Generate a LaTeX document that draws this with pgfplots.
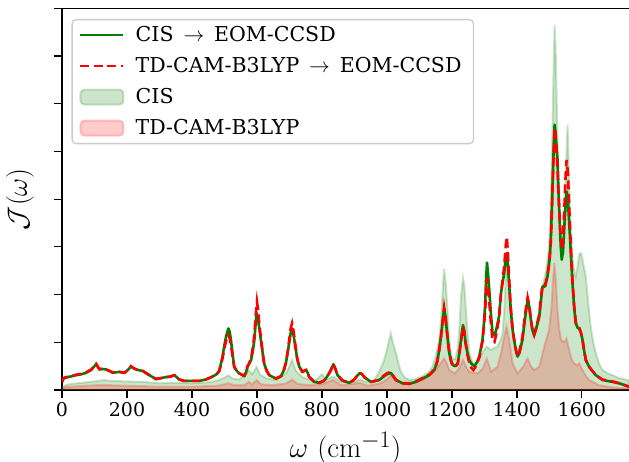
\documentclass[border=0pt]{standalone}
\usepackage{graphicx}
\usepackage[no-math]{fontspec}
\setmainfont{DejaVu Serif}
\usepackage{pgfplots}
\usepackage{pgfplotstable}
\pgfplotsset{compat=1.18}
\definecolor{mplgreen}{RGB}{0,128,0}
\definecolor{mplred}{RGB}{255,0,0}
\definecolor{legedge}{RGB}{204,204,204}

\pgfplotstableread[row sep=\\]{x y\\
0 0.17\\ 5 0.24\\ 12 0.26\\ 25 0.28\\ 43 0.31\\ 60 0.33\\ 74 0.36\\ 90 0.42\\ 105 0.54\\ 115 0.43\\ 125 0.44\\ 135 0.43\\ 146 0.40\\ 156 0.36\\ 176 0.38\\ 192 0.36\\ 203 0.42\\ 212 0.49\\ 222 0.45\\ 233 0.42\\ 248 0.40\\ 260 0.35\\ 269 0.31\\ 289 0.23\\ 305 0.25\\ 320 0.27\\ 333 0.28\\ 346 0.31\\ 361 0.22\\ 376 0.19\\ 402 0.19\\ 422 0.19\\ 443 0.22\\ 463 0.28\\ 476 0.33\\ 484 0.40\\ 494 0.70\\ 500 0.95\\ 505 1.12\\ 512 1.29\\ 516 1.22\\ 520 1.05\\ 525 0.75\\ 530 0.49\\ 538 0.40\\ 545 0.35\\ 561 0.29\\ 566 0.36\\ 571 0.49\\ 576 0.55\\ 582 0.63\\ 588 0.85\\ 592 1.05\\ 596 1.40\\ 599 1.61\\ 602 1.55\\ 607 1.30\\ 612 1.05\\ 617 0.80\\ 622 0.56\\ 630 0.40\\ 638 0.31\\ 658 0.24\\ 674 0.29\\ 682 0.40\\ 689 0.56\\ 695 0.80\\ 699 0.98\\ 704 1.20\\ 708 1.29\\ 712 1.18\\ 718 0.91\\ 724 0.65\\ 730 0.49\\ 740 0.38\\ 751 0.42\\ 756 0.36\\ 761 0.27\\ 776 0.17\\ 792 0.15\\ 805 0.19\\ 812 0.24\\ 822 0.35\\ 828 0.42\\ 835 0.54\\ 841 0.45\\ 848 0.31\\ 863 0.20\\ 884 0.15\\ 898 0.21\\ 905 0.27\\ 917 0.36\\ 925 0.32\\ 930 0.27\\ 951 0.17\\ 976 0.21\\ 990 0.28\\ 1000 0.33\\ 1012 0.36\\ 1018 0.30\\ 1028 0.21\\ 1048 0.14\\ 1069 0.13\\ 1089 0.17\\ 1110 0.24\\ 1130 0.31\\ 1146 0.42\\ 1155 0.60\\ 1161 0.84\\ 1166 1.10\\ 1171 1.40\\ 1176 1.71\\ 1180 1.55\\ 1183 1.33\\ 1188 1.00\\ 1192 0.77\\ 1197 0.62\\ 1203 0.52\\ 1210 0.50\\ 1218 0.56\\ 1223 0.78\\ 1228 1.05\\ 1234 1.36\\ 1238 1.25\\ 1241 1.05\\ 1247 0.80\\ 1253 0.63\\ 1260 0.55\\ 1269 0.50\\ 1277 0.58\\ 1284 0.70\\ 1290 0.90\\ 1294 1.05\\ 1298 1.35\\ 1302 1.75\\ 1305 2.30\\ 1308 2.67\\ 1311 2.45\\ 1315 2.10\\ 1320 1.60\\ 1325 1.19\\ 1331 1.15\\ 1336 1.25\\ 1345 1.54\\ 1351 2.03\\ 1356 2.25\\ 1361 2.45\\ 1366 2.80\\ 1369 2.87\\ 1372 2.65\\ 1376 2.24\\ 1381 1.70\\ 1387 1.26\\ 1395 0.90\\ 1402 0.70\\ 1408 0.78\\ 1417 1.05\\ 1425 1.50\\ 1433 1.89\\ 1438 1.75\\ 1443 1.47\\ 1448 1.25\\ 1453 1.15\\ 1460 1.30\\ 1469 1.54\\ 1475 1.95\\ 1479 2.17\\ 1487 2.17\\ 1494 2.38\\ 1500 2.70\\ 1504 3.07\\ 1508 3.90\\ 1512 4.82\\ 1516 5.56\\ 1519 5.40\\ 1522 5.10\\ 1525 4.82\\ 1528 4.15\\ 1532 3.49\\ 1535 3.00\\ 1538 2.73\\ 1542 2.90\\ 1546 3.42\\ 1550 3.90\\ 1553 4.16\\ 1557 3.95\\ 1561 3.49\\ 1566 2.85\\ 1571 2.24\\ 1576 1.75\\ 1581 1.40\\ 1587 1.30\\ 1592 1.29\\ 1597 1.20\\ 1602 1.05\\ 1607 0.82\\ 1612 0.63\\ 1622 0.49\\ 1632 0.40\\ 1643 0.31\\ 1663 0.21\\ 1694 0.17\\ 1715 0.14\\ 1745 0.07\\
}\cisline

\pgfplotstableread[row sep=\\]{x y\\
0 0.17\\ 5 0.25\\ 12 0.27\\ 25 0.28\\ 43 0.32\\ 60 0.34\\ 74 0.37\\ 90 0.43\\ 105 0.55\\ 115 0.44\\ 125 0.45\\ 135 0.43\\ 146 0.40\\ 156 0.37\\ 176 0.38\\ 192 0.36\\ 203 0.42\\ 212 0.50\\ 222 0.45\\ 233 0.42\\ 248 0.40\\ 260 0.35\\ 269 0.31\\ 289 0.23\\ 305 0.25\\ 320 0.27\\ 333 0.28\\ 346 0.31\\ 361 0.22\\ 376 0.19\\ 402 0.19\\ 422 0.19\\ 443 0.22\\ 463 0.28\\ 476 0.33\\ 484 0.40\\ 494 0.66\\ 500 0.88\\ 505 1.03\\ 512 1.15\\ 516 1.08\\ 520 0.95\\ 525 0.70\\ 530 0.48\\ 538 0.40\\ 545 0.35\\ 561 0.30\\ 566 0.38\\ 571 0.50\\ 576 0.56\\ 582 0.66\\ 588 0.92\\ 592 1.15\\ 596 1.55\\ 600 1.85\\ 603 1.70\\ 607 1.40\\ 612 1.10\\ 617 0.82\\ 622 0.56\\ 630 0.40\\ 638 0.31\\ 658 0.24\\ 674 0.29\\ 682 0.40\\ 689 0.57\\ 695 0.83\\ 699 1.03\\ 704 1.30\\ 708 1.40\\ 712 1.26\\ 718 0.95\\ 724 0.66\\ 730 0.49\\ 740 0.38\\ 751 0.42\\ 756 0.36\\ 761 0.27\\ 776 0.17\\ 792 0.15\\ 805 0.19\\ 812 0.24\\ 822 0.35\\ 828 0.43\\ 835 0.55\\ 841 0.45\\ 848 0.31\\ 863 0.20\\ 884 0.15\\ 898 0.21\\ 905 0.27\\ 917 0.36\\ 925 0.32\\ 930 0.27\\ 951 0.17\\ 976 0.21\\ 990 0.30\\ 1000 0.35\\ 1012 0.38\\ 1018 0.31\\ 1028 0.21\\ 1048 0.14\\ 1069 0.13\\ 1089 0.18\\ 1110 0.25\\ 1130 0.32\\ 1146 0.43\\ 1155 0.60\\ 1161 0.84\\ 1166 1.10\\ 1171 1.42\\ 1176 1.73\\ 1180 1.55\\ 1183 1.33\\ 1188 1.00\\ 1192 0.77\\ 1197 0.60\\ 1203 0.50\\ 1210 0.48\\ 1218 0.55\\ 1223 0.76\\ 1228 1.02\\ 1234 1.32\\ 1238 1.22\\ 1241 1.02\\ 1247 0.76\\ 1253 0.58\\ 1260 0.46\\ 1266 0.42\\ 1272 0.48\\ 1280 0.60\\ 1286 0.72\\ 1290 0.88\\ 1294 1.02\\ 1298 1.30\\ 1302 1.62\\ 1305 2.05\\ 1308 2.34\\ 1311 2.18\\ 1315 1.85\\ 1320 1.40\\ 1325 1.05\\ 1331 1.01\\ 1336 1.15\\ 1345 1.50\\ 1351 2.03\\ 1356 2.30\\ 1361 2.60\\ 1366 3.05\\ 1369 3.21\\ 1372 2.90\\ 1376 2.35\\ 1381 1.72\\ 1387 1.26\\ 1395 0.88\\ 1402 0.70\\ 1408 0.80\\ 1417 1.10\\ 1425 1.58\\ 1433 1.94\\ 1438 1.78\\ 1443 1.48\\ 1448 1.25\\ 1453 1.15\\ 1460 1.32\\ 1469 1.58\\ 1475 2.00\\ 1479 2.22\\ 1487 2.20\\ 1494 2.40\\ 1500 2.68\\ 1504 3.05\\ 1508 3.85\\ 1512 4.75\\ 1516 5.49\\ 1519 5.30\\ 1522 5.00\\ 1525 4.70\\ 1528 4.10\\ 1532 3.55\\ 1535 3.15\\ 1538 2.94\\ 1542 3.20\\ 1546 3.80\\ 1550 4.50\\ 1553 4.82\\ 1557 4.55\\ 1561 3.85\\ 1566 3.00\\ 1571 2.30\\ 1576 1.78\\ 1581 1.42\\ 1587 1.32\\ 1592 1.30\\ 1597 1.20\\ 1602 1.05\\ 1607 0.82\\ 1612 0.63\\ 1622 0.49\\ 1632 0.40\\ 1643 0.31\\ 1663 0.22\\ 1694 0.18\\ 1715 0.14\\ 1745 0.07\\
}\tdline

\pgfplotstableread[row sep=\\]{x y\\
0 0.04\\ 10 0.10\\ 30 0.13\\ 60 0.15\\ 100 0.18\\ 130 0.21\\ 150 0.19\\ 200 0.18\\ 250 0.17\\ 300 0.14\\ 350 0.15\\ 400 0.14\\ 450 0.16\\ 480 0.20\\ 500 0.26\\ 512 0.31\\ 525 0.24\\ 545 0.22\\ 565 0.32\\ 575 0.42\\ 585 0.33\\ 599 0.48\\ 610 0.32\\ 630 0.24\\ 660 0.21\\ 690 0.35\\ 708 0.63\\ 720 0.40\\ 740 0.27\\ 760 0.22\\ 780 0.20\\ 800 0.33\\ 815 0.22\\ 835 0.28\\ 860 0.17\\ 900 0.17\\ 917 0.22\\ 935 0.17\\ 960 0.20\\ 976 0.38\\ 990 0.60\\ 997 0.77\\ 1005 1.00\\ 1012 1.19\\ 1018 1.00\\ 1028 0.77\\ 1036 0.55\\ 1043 0.38\\ 1055 0.26\\ 1069 0.21\\ 1090 0.23\\ 1110 0.29\\ 1130 0.38\\ 1140 0.49\\ 1150 0.70\\ 1161 1.05\\ 1167 1.50\\ 1171 2.03\\ 1176 2.54\\ 1180 2.30\\ 1183 2.03\\ 1188 1.50\\ 1192 1.02\\ 1198 0.75\\ 1203 0.64\\ 1210 0.65\\ 1218 0.88\\ 1223 1.30\\ 1228 1.96\\ 1234 2.35\\ 1238 2.20\\ 1241 1.89\\ 1247 1.30\\ 1253 0.80\\ 1262 0.60\\ 1270 0.52\\ 1280 0.60\\ 1294 0.77\\ 1300 0.85\\ 1307 0.91\\ 1313 0.88\\ 1320 0.84\\ 1330 0.88\\ 1340 0.91\\ 1350 1.05\\ 1356 1.19\\ 1361 1.70\\ 1366 2.40\\ 1369 2.65\\ 1373 2.40\\ 1378 1.80\\ 1385 1.30\\ 1393 1.00\\ 1402 0.84\\ 1412 1.00\\ 1420 1.30\\ 1428 1.70\\ 1433 1.85\\ 1440 1.60\\ 1447 1.35\\ 1453 1.26\\ 1460 1.40\\ 1469 1.68\\ 1480 2.20\\ 1488 2.45\\ 1494 2.72\\ 1500 3.10\\ 1504 3.77\\ 1508 5.00\\ 1512 6.40\\ 1516 7.65\\ 1519 7.20\\ 1522 6.22\\ 1526 4.80\\ 1530 3.80\\ 1535 3.20\\ 1540 2.94\\ 1545 3.40\\ 1550 4.50\\ 1556 5.56\\ 1560 4.60\\ 1565 3.40\\ 1571 2.80\\ 1576 2.50\\ 1581 2.38\\ 1587 2.60\\ 1592 2.85\\ 1597 2.87\\ 1602 2.73\\ 1607 2.55\\ 1612 2.38\\ 1620 1.80\\ 1627 1.33\\ 1635 1.00\\ 1643 0.77\\ 1653 0.55\\ 1663 0.42\\ 1680 0.35\\ 1694 0.31\\ 1715 0.25\\ 1745 0.20\\
}\cisarea

\pgfplotstableread[row sep=\\]{x y\\
0 0.03\\ 10 0.06\\ 50 0.08\\ 100 0.10\\ 150 0.10\\ 200 0.09\\ 300 0.07\\ 400 0.07\\ 480 0.09\\ 512 0.14\\ 530 0.10\\ 560 0.10\\ 575 0.17\\ 585 0.12\\ 599 0.21\\ 612 0.12\\ 650 0.10\\ 690 0.14\\ 708 0.22\\ 725 0.13\\ 760 0.10\\ 800 0.12\\ 835 0.21\\ 860 0.10\\ 917 0.15\\ 940 0.09\\ 980 0.14\\ 1000 0.22\\ 1012 0.31\\ 1025 0.20\\ 1048 0.16\\ 1080 0.16\\ 1110 0.21\\ 1140 0.35\\ 1161 0.52\\ 1176 0.66\\ 1185 0.55\\ 1192 0.42\\ 1208 0.35\\ 1222 0.45\\ 1234 0.63\\ 1243 0.50\\ 1253 0.38\\ 1279 0.35\\ 1295 0.45\\ 1307 0.66\\ 1313 0.55\\ 1320 0.38\\ 1340 0.49\\ 1352 0.80\\ 1361 1.12\\ 1368 1.33\\ 1375 1.10\\ 1387 0.56\\ 1402 0.35\\ 1420 0.50\\ 1433 0.66\\ 1443 0.50\\ 1453 0.42\\ 1469 0.49\\ 1484 0.91\\ 1499 1.26\\ 1506 1.70\\ 1511 2.30\\ 1515 2.66\\ 1519 2.40\\ 1525 1.68\\ 1530 1.30\\ 1536 1.05\\ 1545 1.00\\ 1553 1.08\\ 1561 0.84\\ 1568 0.65\\ 1576 0.56\\ 1585 0.52\\ 1592 0.56\\ 1602 0.42\\ 1612 0.30\\ 1622 0.21\\ 1653 0.10\\ 1700 0.05\\ 1745 0.03\\
}\tdarea

\pgfplotsset{
  myline/.style={legend image code/.code={\draw[##1] (0pt,0pt) -- (43pt,0pt); \path (49pt,0pt);}},
  myarea/.style={legend image code/.code={\draw[##1] (0pt,-7.5pt) rectangle (43pt,7.5pt); \path (49pt,0pt);}},
}

\begin{document}
\begin{tikzpicture}
\begin{axis}[
  scale only axis, width=567pt, height=381.7pt,
  xmin=0, xmax=1745, ymin=0, ymax=8,
  axis x line=box, axis y line=left,
  x axis line style={-}, y axis line style={-},
  axis line style={line width=1.4pt, black},
  xtick={0,200,...,1600}, ytick={0,1,...,8}, yticklabels={},
  xtick pos=left, ytick pos=left,
  tick align=outside, major tick length=8pt,
  tick style={line width=1.2pt, black},
  /pgf/number format/assume math mode=true,
  /pgf/number format/1000 sep={},
  ticklabel style={font=\fontsize{19}{23}\selectfont},
  xticklabel style={yshift=-1pt},
  xlabel={\scalebox{1.15}{$\omega\ (\mathrm{cm}^{-1})$}},
  ylabel={\scalebox{1.12}{$\mathcal{J}(\omega)$}},
  every axis x label/.style={at={(rel axis cs:0.5,0)}, yshift=-58.5pt, anchor=center, font=\fontsize{24.88}{30}\selectfont},
  every axis y label/.style={at={(rel axis cs:0,0.5)}, xshift=-42pt, anchor=center, rotate=90, font=\fontsize{24.88}{30}\selectfont},
  legend cell align=left,
  legend style={at={(rel axis cs:0,1)}, anchor=north west, xshift=9.5pt, yshift=-10.7pt,
    draw=legedge, line width=1.3pt, rounded corners=4pt, fill=white, fill opacity=0.8, text opacity=1,
    font=\fontsize{20.5}{24}\selectfont, inner xsep=7pt, inner ysep=6pt, row sep=12pt,
    nodes={inner xsep=5pt, inner ysep=0pt, text height=16pt, text depth=3pt}},
]
\addlegendimage{myline, mplgreen, line width=2.6pt}
\addlegendentry{CIS \,$\rightarrow$\, EOM-CCSD}
\addlegendimage{myline, mplred, line width=2.6pt, dash pattern=on 9pt off 4.5pt}
\addlegendentry{TD-CAM-B3LYP \,$\rightarrow$\, EOM-CCSD}
\addlegendimage{myarea, fill=mplgreen, fill opacity=0.2, draw=mplgreen, draw opacity=0.2, line width=2pt}
\addlegendentry{CIS}
\addlegendimage{myarea, fill=mplred, fill opacity=0.2, draw=mplred, draw opacity=0.2, line width=2pt}
\addlegendentry{TD-CAM-B3LYP}

\addplot[forget plot, fill=mplgreen, fill opacity=0.2, draw=mplgreen, draw opacity=0.2, line width=2pt] table[x=x,y=y] {\cisarea} \closedcycle;
\addplot[forget plot, fill=mplred, fill opacity=0.2, draw=mplred, draw opacity=0.2, line width=2pt] table[x=x,y=y] {\tdarea} \closedcycle;
\addplot[forget plot, mplgreen, line width=2.6pt, line join=round] table[x=x,y=y] {\cisline};
\addplot[forget plot, mplred, line width=2.6pt, dash pattern=on 9pt off 4.5pt] table[x=x,y=y] {\tdline};

\coordinate (bl) at (rel axis cs:0,0);
\coordinate (tr) at (rel axis cs:1,1);
\end{axis}
\pgfresetboundingbox
\path[use as bounding box] ([shift={(-62pt,-72pt)}]bl) rectangle ([shift={(0pt,8.3pt)}]tr);
\end{tikzpicture}
\end{document}
